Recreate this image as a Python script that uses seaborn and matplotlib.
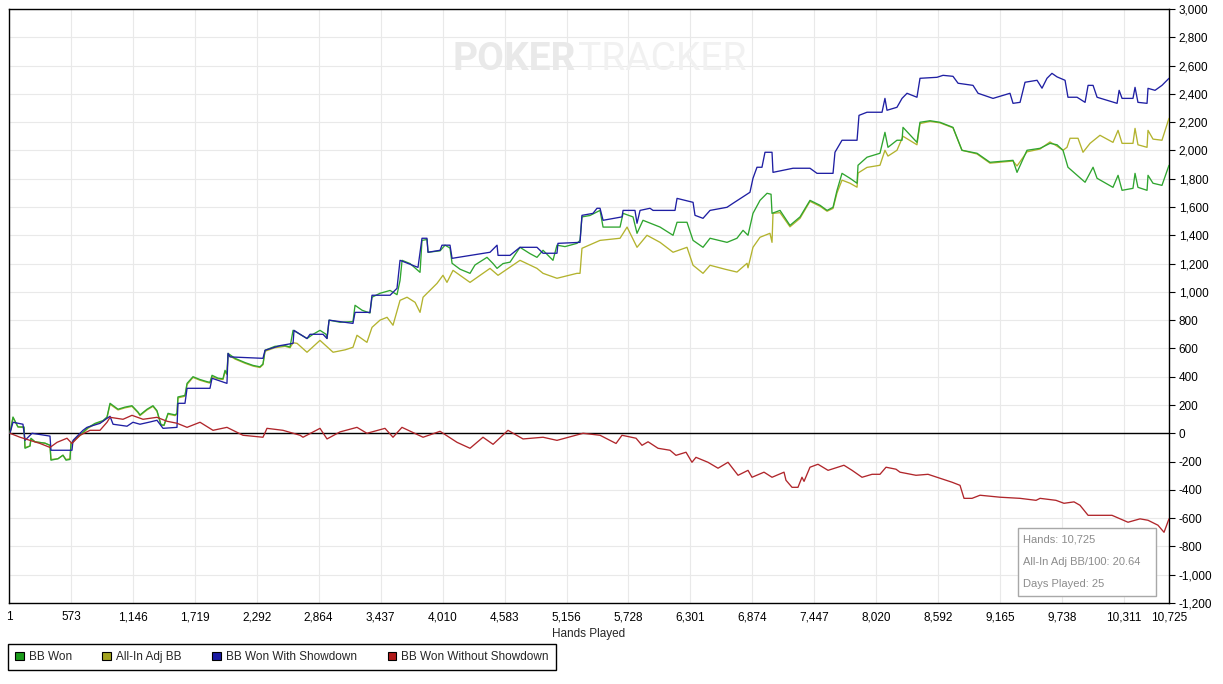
import matplotlib
matplotlib.use("Agg")
import matplotlib.pyplot as plt
import seaborn as sns
from matplotlib.patches import Patch, Rectangle

# ---------------- data ----------------
won_hands = [10, 38, 84, 140, 149, 195, 204, 241, 334, 380, 389, 454, 500, 528, 565, 574, 620, 676,
             731, 796, 870, 907, 935, 1009, 1073, 1138, 1194, 1212, 1277, 1332, 1369, 1406, 1434,
             1471, 1536, 1554, 1563, 1628, 1647, 1702, 1767, 1832, 1859, 1878, 1933, 1979, 1998,
             2016, 2026, 2090, 2183, 2257, 2321, 2349, 2368, 2460, 2553, 2599, 2627, 2692, 2756,
             2812, 2876, 2932, 2941, 2960, 3062, 3181, 3200, 3265, 3338, 3357, 3431, 3524, 3588,
             3616, 3635, 3709, 3782, 3801, 3819, 3865, 3875, 3986, 4032, 4078, 4097, 4171, 4263,
             4309, 4420, 4476, 4513, 4568, 4633, 4725, 4818, 4882, 4938, 5030, 5067, 5141, 5252,
             5280, 5298, 5372, 5465, 5493, 5650, 5678, 5770, 5807, 5862, 6020, 6140, 6177, 6269,
             6325, 6417, 6482, 6639, 6731, 6787, 6833, 6879, 6944, 7009, 7046, 7055, 7129, 7221,
             7314, 7406, 7499, 7564, 7619, 7656, 7702, 7776, 7841, 7850, 7933, 8053, 8099, 8127,
             8210, 8257, 8266, 8395, 8423, 8516, 8608, 8728, 8811, 8950, 9070, 9283, 9320, 9412,
             9533, 9625, 9690, 9745, 9791, 9949, 10023, 10060, 10207, 10254, 10291, 10392, 10411,
             10438, 10522, 10531, 10577, 10660, 10725]
won_bb = [0, 115, 45, 45, -106, -90, -35, -60, -70, -85, -190, -180, -155, -190, -185, -72, -35, 0,
          40, 70, 90, 115, 212, 170, 185, 195, 150, 130, 170, 195, 160, 60, 57,
          141, 130, 141, 257, 268, 353, 400, 380, 365, 360, 410, 390, 385, 445,
          420, 565, 530, 500, 480, 470, 490, 587, 615, 620, 610, 728, 700, 670,
          700, 728, 700, 670, 800, 785, 790, 905, 870, 850, 962, 990, 1010, 980,
          1080, 1223, 1200, 1150, 1138, 1364, 1370, 1280, 1290, 1330, 1310, 1202, 1160, 1131,
          1190, 1244, 1200, 1166, 1200, 1210, 1315, 1270, 1244, 1294, 1223, 1330, 1320, 1343,
          1364, 1530, 1540, 1576, 1458, 1458, 1555, 1530, 1414, 1506, 1458, 1400, 1492, 1492,
          1364, 1315, 1379, 1350, 1379, 1435, 1400, 1555, 1647, 1697, 1690, 1555, 1576, 1470,
          1530, 1647, 1612, 1576, 1598, 1718, 1838, 1803, 1768, 1895, 1952, 1980, 2128, 2022,
          2072, 2072, 2163, 2057, 2199, 2210, 2199, 2163, 2001, 1980, 1916, 1930, 1845, 2001,
          2015, 2050, 2040, 2001, 1881, 1775, 1881, 1803, 1739, 1824, 1718, 1732, 1838,
          1739, 1718, 1824, 1768, 1753, 1895]

adj_hands = [10, 38, 84, 140, 149, 195, 204, 241, 334, 380, 389, 454, 500, 528, 565, 574, 620, 676,
             731, 796, 870, 907, 935, 1009, 1073, 1138, 1194, 1212, 1277, 1332, 1369, 1406, 1434,
             1471, 1536, 1554, 1563, 1628, 1647, 1702, 1767, 1832, 1859, 1878, 1933, 1979, 1998,
             2016, 2026, 2090, 2183, 2257, 2321, 2349, 2368, 2460, 2553, 2599, 2627, 2664, 2756,
             2876, 2997, 3108, 3181, 3218, 3310, 3357, 3431, 3496, 3551, 3616, 3681, 3755, 3801,
             3829, 3958, 4013, 4050, 4106, 4263, 4448, 4522, 4725, 4882, 4938, 5067, 5252, 5280,
             5298, 5465, 5650, 5715, 5807, 5899, 6020, 6140, 6269, 6325, 6417, 6482, 6621, 6731,
             6824, 6833, 6879, 6944, 7036, 7055, 7064, 7129, 7221, 7314, 7406, 7499, 7564, 7619,
             7656, 7702, 7776, 7841, 7850, 7933, 8053, 8099, 8127, 8210, 8266, 8395, 8423, 8516,
             8608, 8728, 8811, 8950, 9070, 9283, 9320, 9412, 9533, 9625, 9690, 9745, 9782, 9810,
             9884, 9930, 9995, 10087, 10207, 10254, 10291, 10392, 10411, 10438, 10522, 10531,
             10577, 10660, 10725]
adj_bb = [0, 110, 45, 40, -100, -90, -40, -60, -70, -85, -185, -180, -155, -185, -180, -75, -40, -5,
          35, 65, 85, 110, 205, 165, 180, 190, 145, 125, 165, 190, 155, 60, 55,
          135, 125, 135, 250, 262, 345, 395, 375, 360, 355, 400, 385, 380, 435,
          415, 555, 525, 495, 475, 465, 485, 580, 605, 615, 605, 640, 636, 573,
          657, 573, 590, 608, 693, 643, 749, 800, 820, 764, 940, 962, 926, 855,
          962, 1060, 1117, 1067, 1152, 1067, 1166, 1117, 1223, 1166, 1131, 1096, 1131, 1131,
          1308, 1364, 1379, 1458, 1315, 1400, 1350, 1280, 1315, 1188, 1131, 1188, 1160, 1140,
          1202, 1170, 1315, 1386, 1414, 1350, 1555, 1560, 1460, 1520, 1640, 1605, 1570, 1590,
          1700, 1790, 1768, 1740, 1840, 1880, 1895, 2001, 1960, 2001, 2100, 2040, 2190, 2205,
          2195, 2160, 2001, 1975, 1910, 1925, 1890, 1990, 2010, 2060, 2030, 2001, 2022, 2086,
          2086, 1987, 2050, 2107, 2057, 2142, 2050, 2050, 2156, 2040, 2022, 2142,
          2080, 2072, 2227]

sd_hands = [10, 38, 130, 149, 214, 380, 389, 583, 593, 685, 722, 842, 907, 935, 963, 1092, 1147,
            1212, 1305, 1369, 1425, 1554, 1563, 1628, 1647, 1859, 1878, 2016, 2026, 2044, 2349,
            2368, 2507, 2627, 2636, 2692, 2756, 2784, 2904, 2941, 2960, 3181, 3200, 3338, 3357,
            3524, 3588, 3616, 3782, 3819, 3865, 3875, 3986, 4004, 4078, 4097, 4448, 4513, 4522,
            4633, 4725, 4882, 4938, 5067, 5076, 5280, 5298, 5400, 5437, 5465, 5493, 5668, 5678,
            5788, 5807, 5835, 5927, 5955, 6158, 6177, 6325, 6343, 6417, 6482, 6639, 6694, 6851,
            6879, 6916, 6962, 6990, 7055, 7064, 7249, 7406, 7471, 7619, 7637, 7702, 7841, 7859,
            7933, 8072, 8099, 8118, 8210, 8257, 8303, 8395, 8423, 8580, 8636, 8728, 8775, 8913,
            8960, 9098, 9255, 9283, 9348, 9394, 9505, 9551, 9597, 9643, 9690, 9764, 9791, 9875,
            9949, 9977, 10023, 10060, 10245, 10264, 10291, 10392, 10411, 10438, 10522, 10531,
            10596, 10660, 10725]
sd_bb = [0, 78, 64, -50, 0, -20, -120, -120, -50, 21, 42, 70, 106, 120, 64, 50, 78,
         64, 80, 92, 35, 42, 212, 212, 318, 318, 389, 353, 565, 540, 530,
         587, 620, 636, 728, 700, 670, 700, 700, 670, 800, 777, 855, 855, 976,
         976, 1025, 1223, 1173, 1379, 1379, 1280, 1294, 1330, 1330, 1237, 1280, 1330, 1258,
         1258, 1315, 1315, 1273, 1273, 1343, 1350, 1541, 1555, 1591, 1591, 1506, 1530, 1576,
         1576, 1485, 1576, 1591, 1576, 1576, 1661, 1633, 1541, 1520, 1576, 1598, 1626, 1704,
         1803, 1881, 1881, 1987, 1987, 1845, 1874, 1874, 1838, 1838, 1987, 2072, 2072, 2248,
         2270, 2270, 2368, 2284, 2305, 2368, 2404, 2376, 2510, 2517, 2531, 2524, 2475, 2460,
         2404, 2368, 2404, 2333, 2340, 2482, 2496, 2440, 2510, 2545, 2520, 2496, 2376, 2376,
         2340, 2460, 2460, 2376, 2333, 2425, 2368, 2368, 2446, 2340, 2333, 2439,
         2425, 2460, 2510]

nsd_hands = [10, 103, 195, 288, 380, 445, 537, 583, 657, 750, 842, 907, 935, 1055, 1138, 1240,
             1369, 1462, 1554, 1647, 1767, 1887, 2016, 2164, 2349, 2386, 2534, 2692, 2719, 2876,
             2941, 3062, 3218, 3310, 3477, 3551, 3634, 3829, 3986, 4143, 4263, 4383, 4476, 4614,
             4753, 4938, 5067, 5308, 5465, 5613, 5668, 5798, 5853, 5909, 6001, 6112, 6167, 6260,
             6315, 6352, 6463, 6556, 6648, 6741, 6833, 6870, 6981, 7055, 7166, 7184, 7240, 7295,
             7332, 7351, 7406, 7480, 7573, 7720, 7795, 7887, 7980, 8053, 8109, 8201, 8238, 8386,
             8497, 8608, 8719, 8793, 8830, 8904, 8978, 9163, 9348, 9496, 9533, 9680, 9754, 9847,
             9902, 9977, 10050, 10198, 10346, 10457, 10531, 10623, 10679, 10725]
nsd_bb = [0, -28, -50, -72, -100, -64, -35, -72, -14, 21, 21, 78, 113, 99, 127, 99,
          113, 85, 71, 42, 78, 21, 42, -14, -28, 35, 21, -14, -28, 35,
          -40, 10, 42, 0, 35, -28, 42, -28, 14, -64, -106, -28, -78, 21,
          -40, -28, -50, 0, -14, -72, -14, -35, -85, -60, -106, -120, -156, -134,
          -205, -170, -205, -247, -205, -297, -262, -311, -275, -311, -275, -332, -382, -382,
          -311, -340, -240, -219, -262, -226, -262, -311, -290, -290, -240, -254, -275, -297,
          -290, -318, -346, -368, -460, -460, -438, -452, -460, -474, -460, -474, -495, -485,
          -509, -580, -580, -580, -629, -605, -615, -650, -700, -605]

series_names = ["BB Won", "All-In Adj BB", "BB Won With Showdown", "BB Won Without Showdown"]
line_colors = ["#2fa52f", "#b3b32e", "#1f1fa3", "#b0262b"]
legend_colors = ["#1b9b1b", "#a3a31f", "#1b1ba3", "#b01a1a"]

x_ticks = [1, 573, 1146, 1719, 2292, 2864, 3437, 4010, 4583, 5156, 5728, 6301, 6874, 7447,
           8020, 8592, 9165, 9738, 10311, 10725]
y_ticks = [-1200, -1000, -800, -600, -400, -200, 0, 200, 400, 600, 800, 1000, 1200, 1400,
           1600, 1800, 2000, 2200, 2400, 2600, 2800, 3000]

info_lines = ["Hands: 10,725", "All-In Adj BB/100: 20.64", "Days Played: 25"]

# ---------------- figure ----------------
sns.set_style("white")
plt.rcParams['font.family'] = ['Liberation Sans', 'DejaVu Sans']

W, H = 1223, 684
fig = plt.figure(figsize=(W / 100, H / 100), dpi=100)
fig.patch.set_facecolor("white")
ax = fig.add_axes([9 / W, 81 / H, 1160 / W, 594 / H])

ax.set_xlim(1, 10725)
ax.set_ylim(-1200, 3000)
ax.set_xticks(x_ticks)
ax.set_xticklabels([f"{v:,}" for v in x_ticks])
ax.set_yticks(y_ticks)
ax.set_yticklabels([f"{v:,}" for v in y_ticks])
ax.yaxis.tick_right()
ax.grid(True, color="#e9e9e9", lw=0.8, zorder=0)
ax.set_axisbelow(True)
for s in ax.spines.values():
    s.set_color("black")
    s.set_linewidth(1.0)
ax.tick_params(axis="both", direction="out", length=4, width=0.8, color="black",
               labelsize=8.5, labelcolor="black")
ax.tick_params(axis="y", pad=3)
ax.tick_params(axis="x", pad=2)
ax.set_xlabel("Hands Played", fontsize=8.5, labelpad=3)
ax.set_ylabel("")

ax.axhline(0, color="black", lw=1.0, zorder=2)

data = [(adj_hands, adj_bb, 1), (won_hands, won_bb, 0), (sd_hands, sd_bb, 2), (nsd_hands, nsd_bb, 3)]
for hx, hy, idx in data:
    sns.lineplot(x=hx, y=hy, ax=ax, color=line_colors[idx], lw=0.95, estimator=None,
                 sort=False, legend=False, zorder=3)

# watermark
ax.text(576 / W, 1 - 59 / H, "POKER", transform=fig.transFigure, ha="right", va="center",
        fontsize=28, fontweight="bold", color="#e9e9e9", family="Roboto", zorder=1)
ax.text(578 / W, 1 - 59 / H, "TRACKER", transform=fig.transFigure, ha="left", va="center",
        fontsize=28, fontweight="normal", color="#f1f1f1", family="Roboto", zorder=1)

# info box
fig.add_artist(Rectangle((1018 / W, 1 - 596 / H), 138 / W, 68 / H, transform=fig.transFigure,
                         facecolor="white", edgecolor="#a8a8a8", lw=1.0, zorder=5))
for i, t in enumerate(info_lines):
    fig.text(1023 / W, 1 - (540 + 22 * i) / H, t, ha="left", va="center", fontsize=8,
             color="#8c8c8c", zorder=6)

# legend
handles = [Patch(facecolor=c, edgecolor="black", lw=0.8) for c in legend_colors]
leg = fig.legend(handles, series_names, loc="upper left", bbox_to_anchor=(8 / W, 1 - 644 / H),
                 ncol=4, frameon=True, fancybox=False, edgecolor="black", framealpha=1,
                 handlelength=0.75, handleheight=0.75, handletextpad=0.4, columnspacing=2.6,
                 borderpad=0.6, fontsize=8.5, borderaxespad=0)
leg.get_frame().set_linewidth(1.0)

fig.savefig("out.png", dpi=100, facecolor="white")
